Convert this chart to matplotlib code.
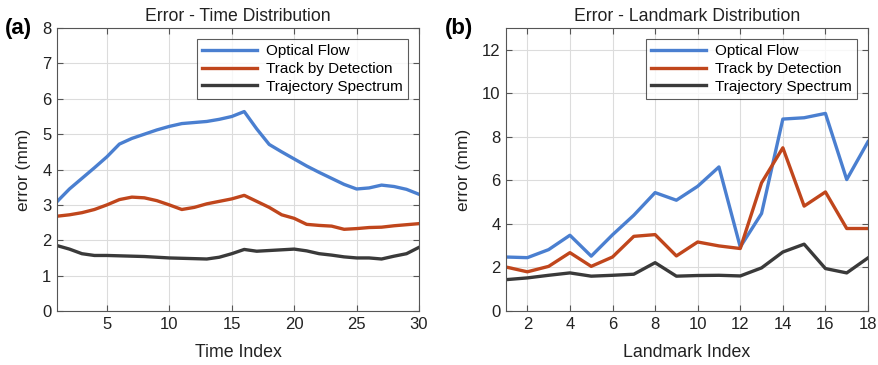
import matplotlib
matplotlib.use("Agg")
import matplotlib.pyplot as plt
import numpy as np

plt.rcParams['font.family'] = ['Liberation Sans', 'DejaVu Sans']

series_names = ["Optical Flow", "Track by Detection", "Trajectory Spectrum"]
colors = ["#4a7fd0", "#c0461c", "#3a3a3a"]

time_index = list(range(1, 31))
time_optical = [3.09, 3.45, 3.75, 4.05, 4.36, 4.72, 4.88, 5.0, 5.12, 5.22,
                5.3, 5.33, 5.36, 5.42, 5.5, 5.64, 5.15, 4.71, 4.5, 4.3,
                4.1, 3.92, 3.75, 3.58, 3.45, 3.48, 3.56, 3.52, 3.44, 3.3]
time_track = [2.68, 2.72, 2.78, 2.87, 3.0, 3.15, 3.22, 3.2, 3.12, 3.0,
              2.87, 2.93, 3.03, 3.1, 3.17, 3.27, 3.1, 2.93, 2.72, 2.62,
              2.45, 2.42, 2.4, 2.31, 2.33, 2.36, 2.37, 2.41, 2.44, 2.47]
time_traj = [1.85, 1.75, 1.62, 1.57, 1.57, 1.56, 1.55, 1.54, 1.52, 1.5,
             1.49, 1.48, 1.47, 1.52, 1.62, 1.74, 1.69, 1.71, 1.73, 1.75,
             1.7, 1.62, 1.58, 1.53, 1.5, 1.5, 1.47, 1.55, 1.62, 1.8]

landmark_index = list(range(1, 19))
lm_optical = [2.48, 2.45, 2.82, 3.48, 2.52, 3.5, 4.4, 5.44, 5.09, 5.73,
              6.62, 2.94, 4.48, 8.82, 8.88, 9.08, 6.04, 7.78]
lm_track = [2.02, 1.8, 2.05, 2.68, 2.05, 2.48, 3.43, 3.51, 2.53, 3.17,
            2.99, 2.87, 5.89, 7.5, 4.82, 5.47, 3.79, 3.79]
lm_traj = [1.44, 1.52, 1.64, 1.75, 1.6, 1.64, 1.69, 2.22, 1.6, 1.63,
           1.64, 1.61, 1.98, 2.71, 3.07, 1.95, 1.75, 2.44]

fig = plt.figure(figsize=(8.79, 3.65), dpi=100)
ax1 = fig.add_axes([0.0648, 0.148, 0.4119, 0.775])
ax2 = fig.add_axes([0.5757, 0.148, 0.4118, 0.775])

def style(ax, title, xlabel, xlim, ylim, xticks, yticks):
    ax.set_xlim(*xlim)
    ax.set_ylim(*ylim)
    ax.set_xticks(xticks)
    ax.set_yticks(yticks)
    ax.grid(True, color="#dcdcdc", linewidth=0.8)
    ax.set_axisbelow(True)
    for s in ax.spines.values():
        s.set_color("#555555")
        s.set_linewidth(0.8)
    ax.tick_params(direction="in", top=True, right=True, length=4,
                   color="#555555", labelsize=12, pad=4, labelcolor="#222222")
    ax.set_title(title, fontsize=12.7, color="#222222", pad=5)
    ax.set_xlabel(xlabel, fontsize=12.8, color="#222222", labelpad=9)
    ax.set_ylabel("error (mm)", fontsize=12.5, color="#222222", labelpad=8)

for y, c, n in zip([time_optical, time_track, time_traj], colors, series_names):
    ax1.plot(time_index, y, color=c, linewidth=2.4, label=n)
for y, c, n in zip([lm_optical, lm_track, lm_traj], colors, series_names):
    ax2.plot(landmark_index, y, color=c, linewidth=2.4, label=n)

style(ax1, "Error - Time Distribution", "Time Index", (1, 30), (0, 8),
      [5, 10, 15, 20, 25, 30], list(range(0, 9)))
style(ax2, "Error - Landmark Distribution", "Landmark Index", (1, 18), (0, 13),
      list(range(2, 19, 2)), list(range(0, 13, 2)))

for ax in (ax1, ax2):
    leg = ax.legend(loc="upper right", fontsize=11, frameon=True, fancybox=False,
                    edgecolor="#333333", handlelength=3.6, borderpad=0.35,
                    labelspacing=0.25, handletextpad=0.6, borderaxespad=0.7)
    leg.get_frame().set_linewidth(0.8)

fig.text(0.006, 0.922, "(a)", fontsize=16, fontweight="bold", va="center", ha="left")
fig.text(0.506, 0.922, "(b)", fontsize=16, fontweight="bold", va="center", ha="left")

fig.savefig("out.png", dpi=100)
